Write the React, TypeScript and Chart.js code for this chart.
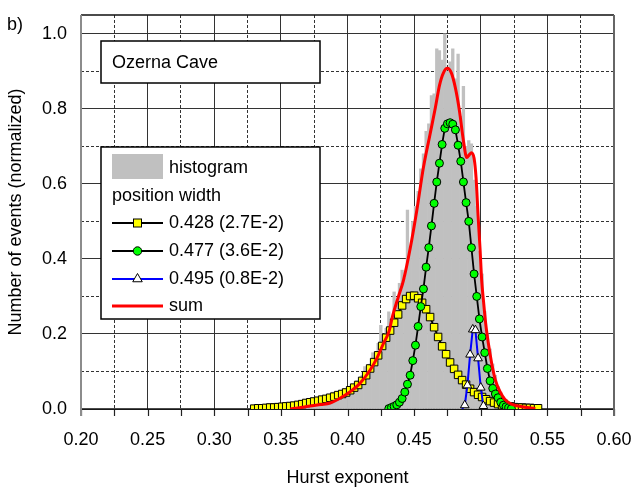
import React, { useEffect, useRef } from "react";
import { Chart, registerables } from "chart.js";
Chart.register(...registerables);

const FONT = '"Liberation Sans", Arial, Helvetica, sans-serif';

const xTickValues = [0.2, 0.225, 0.25, 0.275, 0.3, 0.325, 0.35, 0.375, 0.4, 0.425, 0.45, 0.475, 0.5, 0.525, 0.55, 0.575, 0.6];
const yTickValues = [0, 0.1, 0.2, 0.3, 0.4, 0.5, 0.6, 0.7, 0.8, 0.9, 1.0];

const histX = [
  0.331, 0.333, 0.335, 0.337, 0.339, 0.341, 0.343, 0.345, 0.347, 0.349,
  0.351, 0.353, 0.355, 0.357, 0.359, 0.361, 0.363, 0.365, 0.367, 0.369,
  0.371, 0.373, 0.375, 0.377, 0.379, 0.381, 0.383, 0.385, 0.387, 0.389,
  0.391, 0.393, 0.395, 0.397, 0.399, 0.401, 0.403, 0.405, 0.407, 0.409,
  0.411, 0.413, 0.415, 0.417, 0.419, 0.421, 0.423, 0.425, 0.427, 0.429,
  0.431, 0.433, 0.435, 0.437, 0.439, 0.441, 0.443, 0.445, 0.447, 0.449,
  0.451, 0.453, 0.455, 0.457, 0.459, 0.461, 0.463, 0.465, 0.467, 0.469,
  0.471, 0.473, 0.475, 0.477, 0.479, 0.481, 0.483, 0.485, 0.487, 0.489,
  0.491, 0.493, 0.495, 0.497, 0.499, 0.501, 0.503, 0.505, 0.507, 0.509,
  0.511, 0.513, 0.515, 0.517, 0.519, 0.521, 0.523, 0.525, 0.527, 0.529,
  0.531, 0.533, 0.535, 0.537, 0.539, 0.541,
];
const histY = [
  0.003, 0.004, 0.002, 0.005, 0.003, 0.006, 0.004, 0.005, 0.007, 0.004,
  0.008, 0.006, 0.009, 0.007, 0.010, 0.008, 0.012, 0.010, 0.009, 0.015,
  0.012, 0.030, 0.016, 0.020, 0.018, 0.024, 0.022, 0.027, 0.030, 0.045,
  0.033, 0.040, 0.037, 0.055, 0.048, 0.052, 0.062, 0.058, 0.075, 0.070,
  0.090, 0.113, 0.098, 0.120, 0.150, 0.140, 0.175, 0.223, 0.190, 0.215,
  0.259, 0.240, 0.312, 0.290, 0.335, 0.370, 0.350, 0.530, 0.430, 0.500,
  0.540, 0.580, 0.640, 0.680, 0.740, 0.760, 0.835, 0.840, 0.960, 0.955,
  0.930, 1.000, 0.900, 0.925, 0.960, 0.880, 0.946, 0.780, 0.860, 0.700,
  0.715, 0.707, 0.610, 0.540, 0.420, 0.360, 0.260, 0.200, 0.160, 0.120,
  0.090, 0.060, 0.045, 0.032, 0.025, 0.018, 0.014, 0.010, 0.008, 0.006,
  0.005, 0.004, 0.003, 0.002, 0.002, 0.001,
];

const yellowX = [
  0.330, 0.333, 0.336, 0.339, 0.342, 0.345, 0.348, 0.351, 0.354, 0.357,
  0.360, 0.363, 0.366, 0.369, 0.372, 0.375, 0.378, 0.381, 0.384, 0.387,
  0.390, 0.393, 0.396, 0.399, 0.402, 0.405, 0.408, 0.411, 0.414, 0.417,
  0.420, 0.423, 0.426, 0.429, 0.432, 0.435, 0.438, 0.441, 0.444, 0.447,
  0.450, 0.453, 0.456, 0.459, 0.462, 0.465, 0.468, 0.471, 0.474, 0.477,
  0.480, 0.483, 0.486, 0.489, 0.492, 0.495, 0.498, 0.501, 0.504, 0.507,
  0.510, 0.513, 0.516, 0.519, 0.522, 0.525, 0.528, 0.531, 0.534, 0.537,
  0.540, 0.543,
];
const yellowY = [
  0.001, 0.002, 0.002, 0.003, 0.004, 0.004, 0.005, 0.006, 0.007, 0.008,
  0.009, 0.011, 0.013, 0.016, 0.018, 0.020, 0.022, 0.025, 0.027, 0.030,
  0.033, 0.037, 0.040, 0.044, 0.050, 0.057, 0.064, 0.075, 0.090, 0.108,
  0.125, 0.143, 0.168, 0.190, 0.209, 0.230, 0.252, 0.276, 0.293, 0.301,
  0.302, 0.295, 0.283, 0.266, 0.245, 0.218, 0.192, 0.167, 0.146, 0.124,
  0.107, 0.091, 0.077, 0.065, 0.054, 0.045, 0.038, 0.032, 0.026, 0.021,
  0.017, 0.013, 0.010, 0.008, 0.007, 0.005, 0.004, 0.004, 0.003, 0.003,
  0.002, 0.002,
];

const greenX = [
  0.431, 0.433, 0.435, 0.437, 0.439, 0.441, 0.443, 0.445, 0.447, 0.449,
  0.451, 0.453, 0.455, 0.457, 0.459, 0.461, 0.463, 0.465, 0.467, 0.469,
  0.471, 0.473, 0.475, 0.477, 0.479, 0.481, 0.483, 0.485, 0.487, 0.489,
  0.491, 0.493, 0.495, 0.497, 0.499, 0.501, 0.503, 0.505, 0.507, 0.509,
  0.511, 0.513, 0.515, 0.517, 0.519, 0.521, 0.523,
];
const greenY = [
  0.001, 0.004, 0.007, 0.011, 0.018, 0.028, 0.045, 0.066, 0.090, 0.129,
  0.170, 0.220, 0.273, 0.320, 0.378, 0.430, 0.488, 0.548, 0.605, 0.655,
  0.705, 0.748, 0.760, 0.763, 0.759, 0.744, 0.703, 0.660, 0.605, 0.550,
  0.500, 0.430, 0.360, 0.300, 0.240, 0.192, 0.150, 0.108, 0.075, 0.055,
  0.040, 0.030, 0.018, 0.010, 0.006, 0.003, 0.001,
];

const blueX = [0.486, 0.488, 0.490, 0.492, 0.494, 0.496, 0.498, 0.500, 0.502, 0.504];
const blueY = [0.000, 0.010, 0.063, 0.145, 0.212, 0.210, 0.135, 0.057, 0.008, 0.000];
const blueMarker = [0, 1, 1, 1, 1, 1, 1, 1, 1, 0];

const sumX = [
  0.357, 0.365, 0.372, 0.380, 0.387, 0.394, 0.402, 0.409, 0.417, 0.422,
  0.427, 0.431, 0.434, 0.438, 0.442, 0.447, 0.452, 0.457, 0.462, 0.466,
  0.469, 0.472, 0.475, 0.478, 0.481, 0.484, 0.487, 0.4895, 0.4915, 0.493,
  0.495, 0.4965, 0.498, 0.4995, 0.5007, 0.502, 0.5037, 0.5057, 0.5082, 0.511,
  0.5145, 0.518, 0.523, 0.531, 0.541,
];
const sumY = [
  0.000, 0.004, 0.008, 0.012, 0.016, 0.028, 0.046, 0.067, 0.104, 0.135,
  0.175, 0.205, 0.250, 0.297, 0.343, 0.427, 0.529, 0.644, 0.733, 0.804,
  0.862, 0.896, 0.908, 0.895, 0.855, 0.795, 0.715, 0.670, 0.678, 0.683,
  0.668, 0.615, 0.515, 0.425, 0.343, 0.290, 0.228, 0.175, 0.122, 0.077,
  0.046, 0.026, 0.013, 0.006, 0.001,
];

const seriesLabels = ["histogram", "0.428 (2.7E-2)", "0.477 (3.6E-2)", "0.495 (0.8E-2)", "sum"];
const legendHeader = "position width";
const boxTitle = "Ozerna Cave";
const panelLabel = "b)";
const xTitle = "Hurst exponent";
const yTitle = "Number of events (normalized)";

const pts = (xs: number[], ys: number[]) => xs.map((x, i) => ({ x, y: ys[i] }));
const isMajorX = (v: number) => Math.round(v * 1000) % 50 === 0;
const isMajorY = (v: number) => Math.round(v * 10) % 2 === 0;

function drawSquare(ctx: CanvasRenderingContext2D, x: number, y: number, s: number, fill: string) {
  ctx.fillStyle = fill;
  ctx.fillRect(x - s / 2, y - s / 2, s, s);
  ctx.lineWidth = 1;
  ctx.strokeStyle = "#000";
  ctx.strokeRect(x - s / 2, y - s / 2, s, s);
}
function drawCircle(ctx: CanvasRenderingContext2D, x: number, y: number, r: number, fill: string) {
  ctx.beginPath();
  ctx.arc(x, y, r, 0, Math.PI * 2);
  ctx.fillStyle = fill;
  ctx.fill();
  ctx.lineWidth = 1;
  ctx.strokeStyle = "#000";
  ctx.stroke();
}
function drawTriangle(ctx: CanvasRenderingContext2D, x: number, y: number, r: number, fill: string) {
  ctx.beginPath();
  for (let k = 0; k < 3; k++) {
    const a = -Math.PI / 2 + (k * 2 * Math.PI) / 3;
    const px = x + Math.cos(a) * r;
    const py = y + Math.sin(a) * r;
    if (k === 0) ctx.moveTo(px, py);
    else ctx.lineTo(px, py);
  }
  ctx.closePath();
  ctx.fillStyle = fill;
  ctx.fill();
  ctx.lineWidth = 1;
  ctx.strokeStyle = "#000";
  ctx.stroke();
}

const decorPlugin = {
  id: "decor",
  beforeDatasetsDraw(chart: any) {
    const { ctx, chartArea: a } = chart;
    const xs = chart.scales.x;
    ctx.save();
    // outward x tick marks
    ctx.lineWidth = 1.2;
    ctx.strokeStyle = "#222";
    ctx.beginPath();
    xTickValues.forEach((v) => {
      const px = Math.round(xs.getPixelForValue(v)) + 0.5;
      ctx.moveTo(px, a.bottom);
      ctx.lineTo(px, a.bottom + 7);
    });
    ctx.stroke();
    ctx.lineWidth = 1.5;
    ctx.strokeStyle = "#111";
    ctx.beginPath();
    ctx.moveTo(a.left, a.top);
    ctx.lineTo(a.right, a.top);
    ctx.moveTo(a.left, a.bottom);
    ctx.lineTo(a.right, a.bottom);
    ctx.stroke();
    ctx.lineWidth = 2;
    ctx.strokeStyle = "#666";
    ctx.beginPath();
    ctx.moveTo(a.right, a.top);
    ctx.lineTo(a.right, a.bottom + 7);
    ctx.stroke();
    ctx.strokeStyle = "#8c8c8c";
    ctx.beginPath();
    ctx.moveTo(a.left, a.top);
    ctx.lineTo(a.left, a.bottom + 7);
    ctx.stroke();
    ctx.restore();
  },
  afterDraw(chart: any) {
    const { ctx, chartArea: a } = chart;
    ctx.save();
    ctx.font = `18px ${FONT}`;
    ctx.textBaseline = "middle";
    ctx.textAlign = "left";
    ctx.fillStyle = "#000";
    ctx.fillText(panelLabel, 7, 25);

    const bx = a.left + 20;
    const bw = 219;
    // title box
    ctx.fillStyle = "#fff";
    ctx.fillRect(bx, 41, bw, 42);
    ctx.lineWidth = 1.5;
    ctx.strokeStyle = "#000";
    ctx.strokeRect(bx, 41, bw, 42);
    ctx.fillStyle = "#000";
    ctx.fillText(boxTitle, bx + 11, 63);

    // legend box
    const ly = 147;
    const lh = 172;
    ctx.fillStyle = "#fff";
    ctx.fillRect(bx, ly, bw, lh);
    ctx.lineWidth = 1.5;
    ctx.strokeStyle = "#000";
    ctx.strokeRect(bx, ly, bw, lh);

    const sx0 = bx + 11;
    const sx1 = bx + 62;
    const tx = bx + 68;
    const mx = (sx0 + sx1) / 2;

    ctx.fillStyle = "#c0c0c0";
    ctx.fillRect(sx0, 154, sx1 - sx0, 25);
    ctx.fillStyle = "#000";
    ctx.fillText(seriesLabels[0], tx, 168);
    ctx.fillText(legendHeader, sx0, 196);

    const rows = [223, 251, 279, 306];
    const colors = ["#000", "#000", "#0000ff", "#ff0000"];
    const widths = [2, 2, 2, 3];
    rows.forEach((y, i) => {
      ctx.strokeStyle = colors[i];
      ctx.lineWidth = widths[i];
      ctx.beginPath();
      ctx.moveTo(sx0, y);
      ctx.lineTo(sx1, y);
      ctx.stroke();
      if (i === 0) drawSquare(ctx, mx, y, 8, "#ffff00");
      if (i === 1) drawCircle(ctx, mx, y, 4.2, "#00ff00");
      if (i === 2) drawTriangle(ctx, mx, y, 5.5, "#ffffff");
      ctx.fillStyle = "#000";
      ctx.fillText(seriesLabels[i + 1], tx, y);
    });
    ctx.restore();
  },
};

export default function App() {
  const ref = useRef<HTMLCanvasElement>(null);
  useEffect(() => {
    document.body.style.margin = "0";
    Chart.defaults.font.family = FONT;
    Chart.defaults.font.size = 18;
    Chart.defaults.color = "#000";
    const chart = new Chart(ref.current as HTMLCanvasElement, {
      type: "line",
      data: {
        datasets: [
          {
            type: "bar",
            label: seriesLabels[0],
            data: pts(histX, histY),
            backgroundColor: "#c0c0c0",
            borderWidth: 0,
            barPercentage: 1,
            categoryPercentage: 1,
            order: 10,
          } as any,
          {
            label: seriesLabels[1],
            data: pts(yellowX, yellowY),
            borderColor: "#000",
            borderWidth: 1.8,
            pointStyle: "rect",
            pointRadius: 5.3,
            pointBackgroundColor: "#ffff00",
            pointBorderColor: "#000",
            pointBorderWidth: 1,
            tension: 0,
            order: 4,
          },
          {
            label: seriesLabels[2],
            data: pts(greenX, greenY),
            borderColor: "#000",
            borderWidth: 1.8,
            pointStyle: "circle",
            pointRadius: 4,
            pointBackgroundColor: "#00ff00",
            pointBorderColor: "#000",
            pointBorderWidth: 1,
            tension: 0,
            order: 3,
          },
          {
            label: seriesLabels[3],
            data: pts(blueX, blueY),
            borderColor: "#0000ff",
            borderWidth: 2,
            pointStyle: "triangle",
            pointRadius: blueMarker.map((m) => (m ? 5 : 0)),
            pointBackgroundColor: "#ffffff",
            pointBorderColor: "#000",
            pointBorderWidth: 1,
            tension: 0,
            order: 2,
          },
          {
            label: seriesLabels[4],
            data: pts(sumX, sumY),
            borderColor: "#ff0000",
            borderWidth: 3,
            pointRadius: 0,
            cubicInterpolationMode: "monotone",
            order: 1,
          },
        ],
      },
      options: {
        responsive: false,
        animation: false,
        layout: { padding: { top: 15, right: 20, left: 0, bottom: 0 } },
        plugins: { legend: { display: false }, tooltip: { enabled: false } },
        scales: {
          x: {
            type: "linear",
            min: 0.2,
            max: 0.6,
            offset: false,
            afterBuildTicks: (s: any) => {
              s.ticks = xTickValues.map((value) => ({ value }));
            },
            afterFit: (s: any) => {
              s.height = 84;
            },
            ticks: {
              autoSkip: false,
              maxRotation: 0,
              padding: 0,
              color: "#000",
              font: { family: FONT, size: 18 },
              callback: (v: any) => (isMajorX(Number(v)) ? Number(v).toFixed(2) : ""),
            },
            grid: {
              offset: false,
              color: "#333",
              lineWidth: 1,
              drawTicks: true,
              tickLength: 20,
              tickColor: "rgba(0,0,0,0)",
            },
            border: {
              display: false,
              dash: (c: any) => (c.tick && !isMajorX(c.tick.value) ? [3, 2] : []),
            },
            title: {
              display: true,
              text: xTitle,
              color: "#000",
              font: { family: FONT, size: 18 },
              padding: { top: 0, bottom: 4 },
            },
          } as any,
          y: {
            type: "linear",
            min: 0,
            max: 1.05,
            afterBuildTicks: (s: any) => {
              s.ticks = yTickValues.map((value) => ({ value }));
            },
            afterFit: (s: any) => {
              s.width = 81;
            },
            ticks: {
              padding: 0,
              color: "#000",
              font: { family: FONT, size: 18 },
              callback: (v: any) => (isMajorY(Number(v)) ? Number(v).toFixed(1) : ""),
            },
            grid: {
              color: "#333",
              lineWidth: 1,
              drawTicks: true,
              tickLength: 14,
              tickColor: "rgba(0,0,0,0)",
            },
            border: {
              display: false,
              dash: (c: any) => (c.tick && !isMajorY(c.tick.value) ? [3, 2] : []),
            },
            title: {
              display: true,
              text: yTitle,
              color: "#000",
              font: { family: FONT, size: 18 },
              padding: { top: 5, bottom: 0 },
            },
          } as any,
        },
      },
      plugins: [decorPlugin],
    });
    return () => chart.destroy();
  }, []);
  return (
    <div style={{ position: "fixed", left: 0, top: 0, width: 634, height: 493 }}>
      <canvas ref={ref} width={634} height={493} style={{ display: "block" }} />
    </div>
  );
}
